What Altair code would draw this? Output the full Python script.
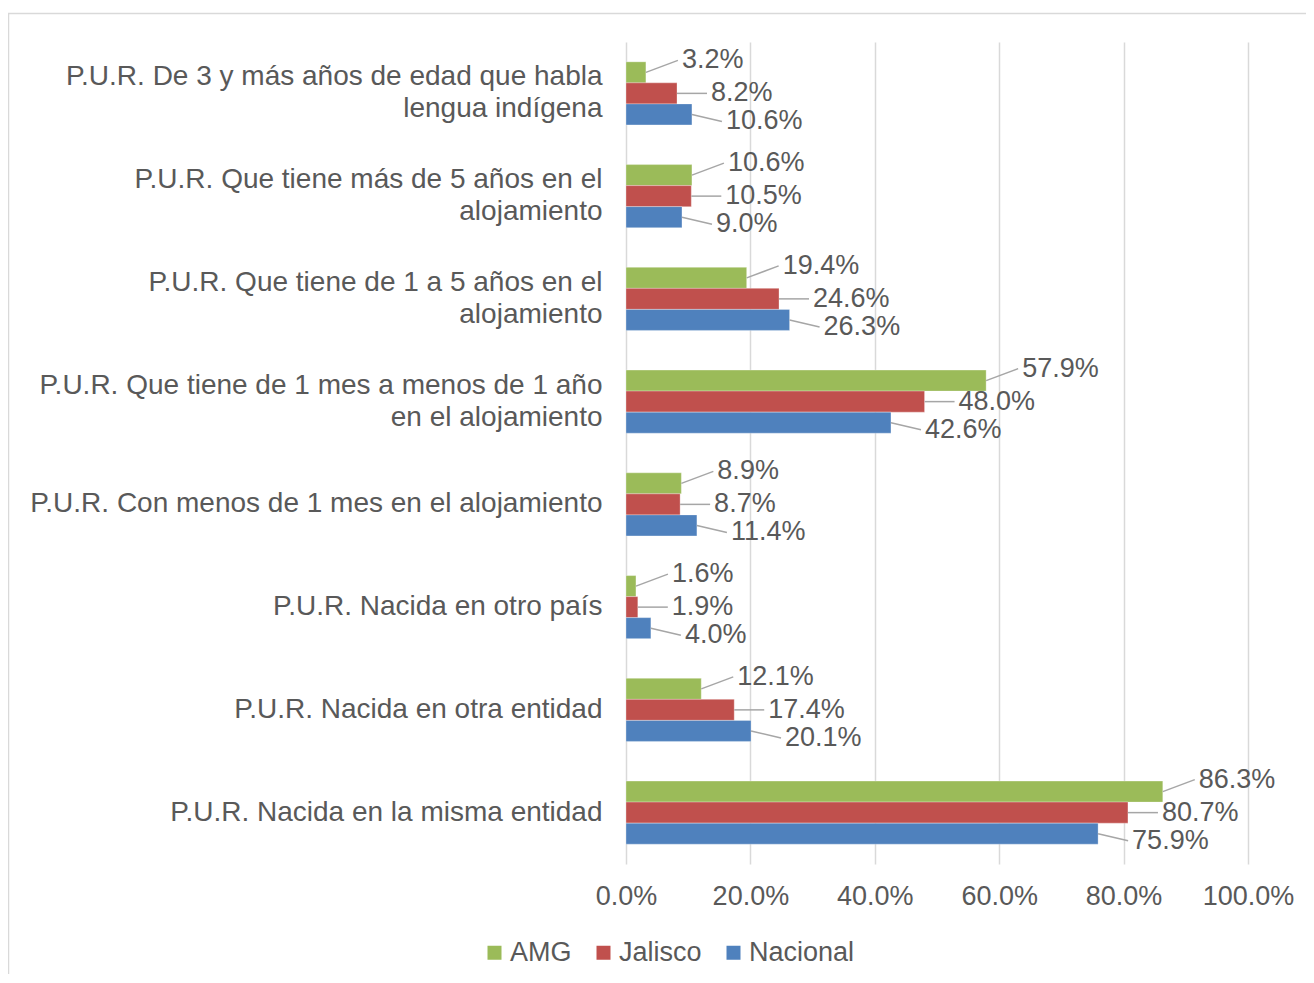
import altair as alt
import pandas as pd

categories = [
    "P.U.R. De 3 y más años de edad que habla\nlengua indígena",
    "P.U.R. Que tiene más de 5 años en el\nalojamiento",
    "P.U.R. Que tiene de 1 a 5 años en el\nalojamiento",
    "P.U.R. Que tiene de 1 mes a menos de 1 año\nen el alojamiento",
    "P.U.R. Con menos de 1 mes en el alojamiento",
    "P.U.R. Nacida en otro país",
    "P.U.R. Nacida en otra entidad",
    "P.U.R. Nacida en la misma entidad",
]
series_names = ["AMG", "Jalisco", "Nacional"]
amg = [3.2, 10.6, 19.4, 57.9, 8.9, 1.6, 12.1, 86.3]
jalisco = [8.2, 10.5, 24.6, 48.0, 8.7, 1.9, 17.4, 80.7]
nacional = [10.6, 9.0, 26.3, 42.6, 11.4, 4.0, 20.1, 75.9]
colors = ["#9BBB59", "#C0504D", "#4F81BD"]
x_ticks = [0, 20, 40, 60, 80, 100]

rows = []
for name, vals in zip(series_names, [amg, jalisco, nacional]):
    for cat, v in zip(categories, vals):
        rows.append({"category": cat, "series": name, "value": v})
df = pd.DataFrame(rows)

FONT = "Liberation Sans"
TXT = "#595959"
FS = 27

y_scale = alt.Scale(paddingInner=0.386, paddingOuter=0.193)
y_axis = alt.Axis(
    title=None, domain=False, ticks=False, grid=False, labelFont=FONT, labelFontSize=28,
    labelColor=TXT, labelLimit=700, labelPadding=24, labelLineHeight=32,
    labelExpr="split(datum.label, '\\n')",
    labelOffset={"condition": {"test": "indexof(datum.label, '\\n') >= 0", "value": -16}, "value": 0},
)


def y_enc(band_pos=None):
    kw = {}
    if band_pos is not None:
        kw["bandPosition"] = band_pos
    return alt.Y("category:N", sort=categories, scale=y_scale, axis=y_axis, **kw)


yoff_enc = alt.YOffset("series:N", sort=series_names,
                       scale=alt.Scale(paddingInner=0, paddingOuter=0))
x_enc = alt.X(
    "value:Q",
    scale=alt.Scale(domain=[0, 100]),
    axis=alt.Axis(
        title=None, values=x_ticks, grid=True, gridColor="#D9D9D9", gridWidth=1.5,
        domain=False, ticks=False, labelFont=FONT, labelFontSize=FS, labelColor=TXT,
        labelPadding=19, labelOverlap=False, labelFlush=False,
        labelExpr="format(datum.value, '.1f') + '%'",
    ),
)

base = alt.Chart(df)

bars = base.mark_bar(stroke="white", strokeWidth=0.5, strokeOpacity=0.6).encode(
    x=x_enc,
    y=y_enc(),
    yOffset=yoff_enc,
    color=alt.Color(
        "series:N",
        sort=series_names,
        scale=alt.Scale(domain=series_names, range=colors),
        legend=alt.Legend(
            title=None, orient="none", direction="horizontal", legendX=-145,
            legendY=897, symbolType="square", symbolSize=196, symbolStrokeWidth=0,
            labelFont=FONT, labelFontSize=FS, labelColor=TXT, labelOffset=2,
            columnPadding=18, padding=0, labelLimit=300,
        ),
    ),
)

# label placement per series: (pixel gap right of bar, vertical shift)
label_style = {"AMG": (36, -12), "Jalisco": (34, 0), "Nacional": (34, 7)}
layers = [bars]
for i, name in enumerate(series_names):
    dx, dy = label_style[name]
    bp = (2 * i + 1) / 6
    sub = base.transform_filter(alt.datum.series == name)
    leader = sub.mark_rule(color="#A6A6A6", strokeWidth=1.5, x2Offset=dx - 4, y2Offset=dy).encode(
        x="value:Q", x2="value:Q", y=y_enc(bp),
        y2=alt.Y2("category:N", bandPosition=bp),
    )
    text = sub.transform_calculate(
        lbl="format(datum.value, '.1f') + '%'"
    ).mark_text(
        align="left", baseline="middle", dx=dx, dy=dy, font=FONT, fontSize=FS, color=TXT
    ).encode(x="value:Q", y=y_enc(bp), text="lbl:N")
    layers += [leader, text]

border = alt.Chart(pd.DataFrame({"a": [0]})).mark_rect(
    fill=None, stroke="#D9D9D9", strokeWidth=1.5
).encode(
    x=alt.value(-617.5), x2=alt.value(1200), y=alt.value(-28.5), y2=alt.value(1200)
)

chart = alt.layer(border, *layers).properties(
    width=622, height=822,
    background="white",
    autosize=alt.AutoSizeParams(type="none"),
    padding={"left": 618, "top": 34, "right": 58, "bottom": 110},
).configure_view(stroke=None, strokeWidth=0)

chart.save("out.html", embed_options={"renderer": "svg", "actions": False})
